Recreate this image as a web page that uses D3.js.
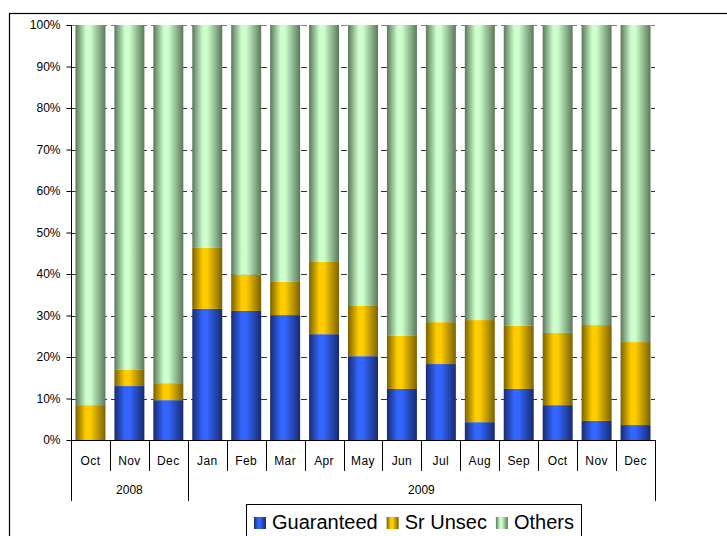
<!DOCTYPE html>
<html>
<head>
<meta charset="utf-8">
<script src="https://cdn.jsdelivr.net/npm/d3@7"></script>
<style>
  body { margin: 0; background: #fff; }
  svg { font-family: "Liberation Sans", Arial, sans-serif; }
</style>
</head>
<body>
<svg width="727" height="536"></svg>
<script>
// Data (percent of total)
var months = ["Oct", "Nov", "Dec", "Jan", "Feb", "Mar", "Apr", "May", "Jun", "Jul", "Aug", "Sep", "Oct", "Nov", "Dec"];
var years = [{label: "2008", start: 0, end: 3}, {label: "2009", start: 3, end: 15}];
var guaranteed = [0, 13.0, 9.6, 31.6, 31.1, 30.1, 25.5, 20.2, 12.3, 18.3, 4.3, 12.3, 8.4, 4.6, 3.6];
var srUnsec = [8.4, 3.9, 4.1, 14.7, 8.7, 8.0, 17.4, 12.1, 12.8, 10.1, 24.6, 15.2, 17.4, 23.1, 20.0];
var yTicks = [0, 10, 20, 30, 40, 50, 60, 70, 80, 90, 100];
var seriesNames = ["Guaranteed", "Sr Unsec", "Others"];

var svg = d3.select("svg");
var plot = {left: 71, right: 655, top: 25, bottom: 440};

// build table for the stack
var rows = months.map(function(m, i) {
  return {i: i, Guaranteed: guaranteed[i], "Sr Unsec": srUnsec[i], Others: 100 - guaranteed[i] - srUnsec[i]};
});
var stacked = d3.stack().keys(seriesNames)(rows);

var x = d3.scaleBand()
  .domain(d3.range(months.length))
  .range([plot.left, plot.right])
  .paddingInner(0.23)
  .paddingOuter(0.115);
var y = d3.scaleLinear().domain([0, 100]).range([plot.bottom, plot.top]);

// gradients, dark at the edges like the cylinder look
var shades = {
  "Guaranteed": ["#172a6e", "#3366ff"],
  "Sr Unsec": ["#7a6200", "#ffcc00"],
  "Others": ["#5a785a", "#ccffcc"]
};
var defs = svg.append("defs");
seriesNames.forEach(function(k, n) {
  var g = defs.append("linearGradient").attr("id", "grad" + n)
    .attr("x1", "0").attr("x2", "1").attr("y1", "0").attr("y2", "0");
  g.append("stop").attr("offset", "0").attr("stop-color", shades[k][0]);
  g.append("stop").attr("offset", "0.35").attr("stop-color", shades[k][1]);
  g.append("stop").attr("offset", "0.5").attr("stop-color", shades[k][1]);
  g.append("stop").attr("offset", "1").attr("stop-color", shades[k][0]);
});

// outer chart border (runs off the picture on the right and bottom)
svg.append("rect")
  .attr("x", 9.5).attr("y", 13.5)
  .attr("width", 760).attr("height", 560)
  .attr("fill", "none").attr("stroke", "#000").attr("stroke-width", 1.2);

// gridlines
svg.append("g")
  .selectAll("line")
  .data(yTicks.filter(function(d) { return d > 0; }))
  .enter().append("line")
  .attr("x1", plot.left).attr("x2", plot.right)
  .attr("y1", function(d) { return Math.round(y(d)) + 0.5; })
  .attr("y2", function(d) { return Math.round(y(d)) + 0.5; })
  .attr("stroke", function(d) { return d === 100 ? "#808080" : "#333"; })
  .attr("stroke-width", 1)
  .attr("stroke-dasharray", "6,4");

// bars
svg.append("g")
  .selectAll("g")
  .data(stacked)
  .enter().append("g")
  .attr("fill", function(d, n) { return "url(#grad" + n + ")"; })
  .selectAll("rect")
  .data(function(d) { return d; })
  .enter().append("rect")
  .attr("x", function(d) { return x(d.data.i); })
  .attr("width", x.bandwidth())
  .attr("y", function(d) { return y(d[1]); })
  .attr("height", function(d) { return y(d[0]) - y(d[1]); });

// y axis
var yAxis = svg.append("g")
  .attr("transform", "translate(" + (plot.left + 0.5) + ",0)")
  .call(d3.axisLeft(y).tickValues(yTicks).tickSize(5).tickPadding(6)
    .tickFormat(function(d) { return d + "%"; }));
yAxis.select(".domain").attr("d", "M0," + y(100) + "V" + (y(0) + 0.5));
yAxis.selectAll("text").attr("font-size", 12).attr("fill", "#000")
  .attr("font-family", "Liberation Sans, Arial, sans-serif");

// x axis line
svg.append("line")
  .attr("x1", plot.left).attr("x2", plot.right)
  .attr("y1", plot.bottom + 0.5).attr("y2", plot.bottom + 0.5)
  .attr("stroke", "#000");

// category dividers and labels
var step = x.step();
var edge = function(i) { return plot.left + i * (plot.right - plot.left) / months.length; };
var xg = svg.append("g");
d3.range(months.length + 1).forEach(function(i) {
  var isYear = years.some(function(yr) { return yr.start === i || yr.end === i; });
  xg.append("line")
    .attr("x1", Math.round(edge(i)) + 0.5).attr("x2", Math.round(edge(i)) + 0.5)
    .attr("y1", plot.bottom).attr("y2", isYear ? 501 : 471)
    .attr("stroke", "#000");
});
xg.selectAll("text.month")
  .data(months)
  .enter().append("text")
  .attr("class", "month")
  .attr("x", function(d, i) { return x(i) + x.bandwidth() / 2; })
  .attr("y", 465)
  .attr("text-anchor", "middle")
  .attr("font-size", 12)
  .attr("letter-spacing", "0.4")
  .text(function(d) { return d; });
xg.selectAll("text.year")
  .data(years)
  .enter().append("text")
  .attr("class", "year")
  .attr("x", function(d) { return (edge(d.start) + edge(d.end)) / 2; })
  .attr("y", 494)
  .attr("text-anchor", "middle")
  .attr("font-size", 12)
  .text(function(d) { return d.label; });

// legend
var legend = svg.append("g");
legend.append("rect")
  .attr("x", 246.5).attr("y", 504.5)
  .attr("width", 335).attr("height", 60)
  .attr("fill", "#fff").attr("stroke", "#000");
var lx = 254;
seriesNames.forEach(function(k, n) {
  legend.append("rect")
    .attr("x", lx).attr("y", 517).attr("width", 12).attr("height", 12)
    .attr("fill", "url(#grad" + n + ")");
  var t = legend.append("text")
    .attr("x", lx + 18).attr("y", 529)
    .attr("font-size", 20)
    .text(k);
  lx += 18 + t.node().getComputedTextLength() + 9;
});
</script>
</body>
</html>
